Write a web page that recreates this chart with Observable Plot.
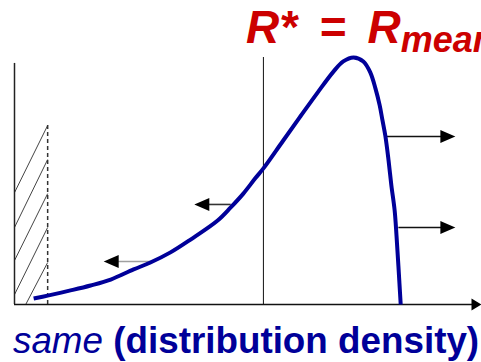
<!DOCTYPE html>
<html>
<head>
<meta charset="utf-8">
<script src="https://cdn.jsdelivr.net/npm/d3@7"></script>
<script src="https://cdn.jsdelivr.net/npm/@observablehq/plot@0.6"></script>
<style>
  html, body { margin: 0; padding: 0; background: #fff; }
  #frame { position: relative; width: 481px; height: 362px; overflow: hidden; }
  #title {
    position: absolute; left: 246px; top: 4px; height: 50px;
    font: italic bold 46px "Liberation Sans", Arial, sans-serif;
    line-height: 46px; color: #cc0000; white-space: nowrap;
  }
  #title .sp { display: inline-block; width: 9px; }
  #title sub { font-size: 36px; vertical-align: baseline; position: relative; top: 9px; }
  #chart { position: absolute; left: 0; top: 50px; }
  #caption {
    position: absolute; left: 13px; top: 322px;
    font: 36.8px "Liberation Sans", Arial, sans-serif; line-height: 37px;
    color: #000099; white-space: nowrap;
  }
  #caption i { font-style: italic; font-weight: normal; }
  #caption b { font-weight: bold; }
</style>
</head>
<body>
<div id="frame">
  <div id="title">R*<span class="sp"></span> = <span class="sp"></span>R<sub>mean</sub></div>
  <div id="chart"></div>
  <div id="caption"><i>same</i> <b>(distribution density)</b></div>
</div>
<script>
// Density curve of R (x) against distribution density (y), both in 0–100 units
const curveX = [4.1, 7.1, 12.0, 16.3, 20.6, 25.5, 29.1, 33.4, 37.7, 43.5, 46.3, 49.0, 51.6, 53.3,
                57.4, 61.2, 64.9, 68.3, 70.4, 72.6, 74.7, 76.2, 77.3, 78.2, 78.8, 79.4, 80.1,
                80.7, 81.4, 81.8, 82.2, 82.7];
const curveY = [2.4, 3.6, 5.7, 7.7, 10.1, 14.2, 17.0, 21.1, 26.3, 34.0, 39.3, 44.9, 51.2, 55.1,
                66.0, 76.1, 85.8, 94.3, 98.4, 100, 98.4, 93.9, 87.4, 80.6, 74.5, 68.4, 58.3,
                48.2, 38.1, 27.9, 15.8, 0];

// Reference lines: density axis, lower cut-off (dashed), R* = R_mean
const axisTop = 97.6;
const cutoffX = 7.1, cutoffTop = 72.5;
const meanX = 53.3, meanTop = 100;
const axisEndX = 100;

// Hatching of the excluded region left of the cut-off
const hatchX1 = [0, 0, 0, 0, 2.4];
const hatchY1 = [45.3, 31.2, 17.8, 4.0, 0];
const hatchX2 = [7.1, 7.1, 7.1, 7.1, 7.1];
const hatchY2 = [72.5, 58.7, 44.9, 31.2, 17.0];

// Shift arrows: start on the curve, tip pointing left (toward smaller R) or right
const arrowFrom = [79.4, 82.2, 46.3, 29.6];
const arrowTo   = [94.4, 94.4, 38.5, 19.1];
const arrowY    = [68.0, 31.2, 40.5, 17.4];
const arrowTone = ["#111", "#111", "#333", "#a0a0a0"];

const curve = curveX.map((x, i) => ({x, y: curveY[i]}));
const hatch = hatchX1.map((x1, i) => ({x1, y1: hatchY1[i], x2: hatchX2[i], y2: hatchY2[i]}));
const arrows = arrowFrom.map((from, i) => ({from, to: arrowTo[i], y: arrowY[i], tone: arrowTone[i],
                                            dir: arrowTo[i] > from ? 1 : -1}));

// Filled arrowhead symbols with the tip at the origin
const headRight = {draw(ctx) { ctx.moveTo(0, 0); ctx.lineTo(-15, -6.5); ctx.lineTo(-15, 6.5); ctx.closePath(); }};
const headLeft  = {draw(ctx) { ctx.moveTo(0, 0); ctx.lineTo(15, -6.5); ctx.lineTo(15, 6.5); ctx.closePath(); }};
const headAxis  = {draw(ctx) { ctx.moveTo(0, 0); ctx.lineTo(-10, -6); ctx.lineTo(-10, 6); ctx.closePath(); }};

const chart = Plot.plot({
  width: 481,
  height: 262,
  margin: 0,
  x: {domain: [0, 100], range: [14, 481]},
  y: {domain: [0, 100], range: [254, 7]},
  axis: null,
  marks: [
    Plot.link(hatch, {x1: "x1", y1: "y1", x2: "x2", y2: "y2", stroke: "#444", strokeWidth: 1}),
    Plot.ruleX([0], {y1: 0, y2: axisTop, stroke: "#222", strokeWidth: 1.5}),
    Plot.ruleX([cutoffX], {y1: 0, y2: cutoffTop, stroke: "#333", strokeWidth: 1.5, strokeDasharray: "4,3"}),
    Plot.ruleX([meanX], {y1: 0, y2: meanTop, stroke: "#111", strokeWidth: 1}),
    Plot.ruleY([0], {x1: 0, x2: axisEndX - 1.5, stroke: "#111", strokeWidth: 1.5}),
    Plot.dot([axisEndX], {x: d => d, y: 0, symbol: headAxis, fill: "#000", stroke: "none"}),
    Plot.link(arrows, {x1: "from", x2: d => d.to - d.dir * 2, y1: "y", y2: "y", stroke: d => d.tone, strokeWidth: 1.6}),
    Plot.dot(arrows.filter(d => d.dir > 0), {x: "to", y: "y", symbol: headRight, fill: "#000", stroke: "none"}),
    Plot.dot(arrows.filter(d => d.dir < 0), {x: "to", y: "y", symbol: headLeft, fill: "#000", stroke: "none"}),
    Plot.line(curve, {x: "x", y: "y", curve: "catmull-rom", stroke: "#000099", strokeWidth: 4,
                      strokeLinecap: "butt", strokeLinejoin: "round"})
  ]
});
document.getElementById("chart").appendChild(chart);
</script>
</body>
</html>
